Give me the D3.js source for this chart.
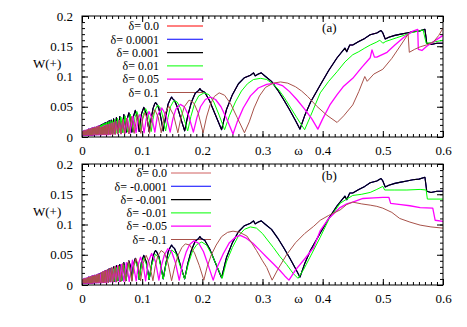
<!DOCTYPE html>
<html>
<head>
<meta charset="utf-8">
<script src="https://cdn.jsdelivr.net/npm/d3@7"></script>
<style>
  body { margin: 0; background: #fff; }
  svg text { font-family: "Liberation Serif", serif; fill: #000; }
</style>
</head>
<body>
<div id="chart"></div>
<script>
// tick labels
var xTicks = [0, 0.1, 0.2, 0.3, 0.4, 0.5, 0.6];
var xTickLabels = ["0", "0.1", "0.2", "0.3", "0.4", "0.5", "0.6"];
var yTicks = [0, 0.05, 0.1, 0.15, 0.2];
var yTickLabels = ["0", "0.05", "0.1", "0.15", "0.2"];

// legend entries
var topLabels = ["δ= 0.0", "δ= 0.0001", "δ= 0.001", "δ= 0.01", "δ= 0.05", "δ= 0.1"];
var botLabels = ["δ= 0.0", "δ= -0.0001", "δ= -0.001", "δ= -0.01", "δ= -0.05", "δ= -0.1"];
var topColors = ["#ff0000", "#0000ff", "#000000", "#00ff00", "#ff00ff", "#a8524a"];
var botColors = ["#d06060", "#0000ff", "#000000", "#00ff00", "#ff00ff", "#a8524a"];

// [omega, W(+)]
// low-omega band, where every curve oscillates too fast to separate
var dense = [[0,0.005],[0.001,0.009],[0.002,0.003],[0.003,0.010],[0.004,0.003],[0.005,0.011],[0.006,0.003],[0.007,0.011],[0.008,0.003],[0.009,0.012],[0.010,0.003],[0.011,0.013],[0.012,0.003],[0.013,0.013],[0.014,0.003],[0.015,0.014],[0.016,0.003],[0.017,0.015],[0.018,0.003],[0.019,0.015],[0.020,0.004],[0.021,0.016],[0.022,0.004],[0.023,0.016],[0.024,0.004],[0.025,0.017],[0.026,0.004],[0.027,0.018],[0.028,0.004],[0.029,0.018],[0.030,0.004]];

// delta = 0 (and +-0.0001, +-0.001, which lie on top of it)
var w0 = [[0.0303,0.019],[0.0310,0.004],[0.0318,0.020],[0.0326,0.004],[0.0335,0.021],[0.0344,0.005],[0.0353,0.022],[0.0363,0.005],[0.0373,0.023],[0.0384,0.005],[0.0396,0.024],[0.0409,0.005],[0.0422,0.025],[0.0436,0.005],[0.0452,0.027],[0.0468,0.006],[0.0486,0.028],[0.0505,0.006],[0.0525,0.030],[0.0548,0.006],[0.0572,0.032],[0.0598,0.007],[0.0628,0.034],[0.0660,0.007],[0.0695,0.037],[0.0735,0.008],[0.0755,0.031],[0.0779,0.040],[0.0805,0.031],[0.0829,0.008],[0.0856,0.034],[0.0886,0.044],[0.0918,0.034],[0.0951,0.009],[0.0988,0.038],[0.1027,0.049],[0.1070,0.038],[0.1116,0.009],[0.1150,0.030],[0.1180,0.047],[0.1205,0.054],[0.1222,0.057],[0.1240,0.055],[0.1275,0.048],[0.1310,0.032],[0.1350,0.010],[0.1390,0.033],[0.1430,0.054],[0.1470,0.063],[0.1490,0.066],[0.1500,0.064],[0.1540,0.060],[0.1590,0.048],[0.1650,0.028],[0.1706,0.010],[0.1760,0.036],[0.1820,0.058],[0.1880,0.072],[0.1940,0.077],[0.1960,0.080],[0.1980,0.077],[0.2040,0.074],[0.2120,0.060],[0.2220,0.036],[0.2320,0.012],[0.2400,0.045],[0.2500,0.070],[0.2600,0.088],[0.2700,0.098],[0.2800,0.102],[0.2850,0.106],[0.2880,0.101],[0.2930,0.104],[0.2980,0.106],[0.3050,0.100],[0.3150,0.092],[0.3250,0.078],[0.3350,0.062],[0.3450,0.045],[0.3550,0.027],[0.3623,0.013],[0.3700,0.035],[0.3800,0.058],[0.3960,0.086],[0.4100,0.110],[0.4240,0.131],[0.4370,0.147],[0.4400,0.141],[0.4450,0.152],[0.4500,0.152],[0.4600,0.158],[0.4700,0.163],[0.4790,0.169],[0.4900,0.172],[0.4970,0.176],[0.5000,0.172],[0.5040,0.162],[0.5100,0.165],[0.5200,0.168],[0.5300,0.170],[0.5400,0.172],[0.5500,0.174],[0.5600,0.175],[0.5700,0.178],[0.5730,0.155],[0.5800,0.153],[0.5900,0.155],[0.6000,0.155]];

// top panel, delta = 0.01
var wTop001 = [[0.0302,0.004],[0.0310,0.019],[0.0318,0.004],[0.0327,0.020],[0.0336,0.004],[0.0345,0.021],[0.0354,0.005],[0.0364,0.022],[0.0374,0.005],[0.0384,0.023],[0.0396,0.005],[0.0408,0.024],[0.0421,0.005],[0.0435,0.025],[0.0449,0.005],[0.0466,0.026],[0.0482,0.006],[0.0501,0.027],[0.0520,0.006],[0.0541,0.029],[0.0564,0.006],[0.0589,0.031],[0.0616,0.007],[0.0647,0.033],[0.0680,0.007],[0.0716,0.035],[0.0757,0.008],[0.0802,0.038],[0.0854,0.008],[0.0880,0.032],[0.0913,0.042],[0.0945,0.032],[0.0980,0.009],[0.1015,0.036],[0.1058,0.047],[0.1105,0.036],[0.1150,0.009],[0.1180,0.029],[0.1210,0.044],[0.1259,0.053],[0.1310,0.047],[0.1350,0.030],[0.1390,0.010],[0.1430,0.032],[0.1470,0.050],[0.1525,0.060],[0.1580,0.058],[0.1640,0.047],[0.1700,0.029],[0.1757,0.010],[0.1810,0.034],[0.1870,0.055],[0.1940,0.068],[0.2030,0.073],[0.2110,0.070],[0.2190,0.058],[0.2280,0.036],[0.2370,0.012],[0.2450,0.035],[0.2550,0.058],[0.2650,0.076],[0.2750,0.088],[0.2850,0.095],[0.2970,0.097],[0.3070,0.095],[0.3170,0.088],[0.3270,0.078],[0.3370,0.064],[0.3470,0.048],[0.3570,0.032],[0.3700,0.012],[0.3800,0.035],[0.3960,0.073],[0.4100,0.092],[0.4240,0.108],[0.4370,0.124],[0.4500,0.136],[0.4600,0.141],[0.4700,0.147],[0.4790,0.152],[0.4900,0.157],[0.4950,0.160],[0.5000,0.155],[0.5050,0.158],[0.5230,0.164],[0.5350,0.168],[0.5450,0.172],[0.5550,0.174],[0.5670,0.177],[0.5720,0.155],[0.5800,0.156],[0.5900,0.158],[0.6000,0.160]];

// top panel, delta = 0.05
var wTop005 = [[0.0307,0.004],[0.0314,0.016],[0.0321,0.004],[0.0329,0.016],[0.0336,0.004],[0.0345,0.017],[0.0354,0.004],[0.0363,0.018],[0.0373,0.004],[0.0383,0.019],[0.0394,0.004],[0.0405,0.0195],[0.0417,0.004],[0.0430,0.020],[0.0444,0.004],[0.0458,0.021],[0.0473,0.004],[0.0490,0.023],[0.0508,0.005],[0.0527,0.024],[0.0548,0.005],[0.0570,0.0255],[0.0595,0.005],[0.0621,0.027],[0.0649,0.005],[0.0681,0.029],[0.0716,0.006],[0.0754,0.031],[0.0797,0.006],[0.0845,0.034],[0.0899,0.007],[0.0930,0.029],[0.0961,0.037],[0.0995,0.029],[0.1032,0.007],[0.1070,0.031],[0.1114,0.042],[0.1163,0.031],[0.1211,0.008],[0.1255,0.036],[0.1326,0.048],[0.1395,0.036],[0.1465,0.008],[0.1510,0.030],[0.1560,0.046],[0.1635,0.054],[0.1700,0.050],[0.1770,0.036],[0.1851,0.008],[0.1910,0.032],[0.1970,0.050],[0.2050,0.062],[0.2134,0.066],[0.2220,0.062],[0.2310,0.050],[0.2410,0.029],[0.2510,0.005],[0.2580,0.025],[0.2680,0.048],[0.2800,0.068],[0.2930,0.081],[0.3070,0.087],[0.3210,0.089],[0.3330,0.085],[0.3450,0.075],[0.3570,0.062],[0.3700,0.046],[0.3820,0.030],[0.3920,0.013],[0.4000,0.030],[0.4120,0.053],[0.4240,0.070],[0.4340,0.083],[0.4500,0.097],[0.4650,0.115],[0.4790,0.131],[0.4820,0.144],[0.4860,0.132],[0.4900,0.132],[0.5070,0.140],[0.5200,0.152],[0.5350,0.165],[0.5500,0.175],[0.5580,0.178],[0.5590,0.145],[0.5650,0.143],[0.5730,0.150],[0.5850,0.158],[0.6000,0.168]];

// top panel, delta = 0.1
var wTop010 = [[0.0307,0.004],[0.0314,0.016],[0.0320,0.004],[0.0327,0.016],[0.0334,0.004],[0.0341,0.017],[0.0349,0.004],[0.0358,0.017],[0.0366,0.004],[0.0375,0.018],[0.0385,0.004],[0.0395,0.019],[0.0406,0.004],[0.0417,0.020],[0.0428,0.004],[0.0440,0.021],[0.0453,0.004],[0.0467,0.022],[0.0483,0.004],[0.0498,0.023],[0.0514,0.004],[0.0533,0.025],[0.0552,0.004],[0.0573,0.026],[0.0596,0.005],[0.0620,0.028],[0.0647,0.005],[0.0675,0.029],[0.0706,0.005],[0.0741,0.031],[0.0779,0.005],[0.0820,0.034],[0.0867,0.006],[0.0919,0.037],[0.0978,0.006],[0.1010,0.030],[0.1045,0.040],[0.1083,0.030],[0.1122,0.006],[0.1160,0.032],[0.1212,0.045],[0.1265,0.033],[0.1317,0.007],[0.1370,0.037],[0.1442,0.051],[0.1520,0.037],[0.1593,0.007],[0.1640,0.030],[0.1700,0.050],[0.1780,0.061],[0.1860,0.056],[0.1930,0.040],[0.2013,0.007],[0.2070,0.033],[0.2130,0.053],[0.2200,0.067],[0.2280,0.073],[0.2370,0.069],[0.2470,0.055],[0.2580,0.032],[0.2700,0.007],[0.2780,0.025],[0.2860,0.048],[0.2950,0.068],[0.3050,0.082],[0.3180,0.089],[0.3300,0.091],[0.3420,0.089],[0.3550,0.083],[0.3650,0.076],[0.3750,0.067],[0.3900,0.051],[0.4070,0.036],[0.4240,0.024],[0.4350,0.035],[0.4500,0.053],[0.4600,0.075],[0.4700,0.100],[0.4740,0.092],[0.4850,0.104],[0.5000,0.112],[0.5150,0.130],[0.5300,0.152],[0.5420,0.170],[0.5440,0.140],[0.5530,0.145],[0.5620,0.149],[0.5720,0.152],[0.5840,0.157],[0.5930,0.168],[0.6000,0.180]];

// bottom panel, delta = -0.01
var wBotM001 = [[0.0303,0.018],[0.0310,0.004],[0.0318,0.019],[0.0326,0.004],[0.0335,0.019],[0.0344,0.005],[0.0353,0.020],[0.0363,0.005],[0.0373,0.021],[0.0384,0.005],[0.0396,0.022],[0.0409,0.005],[0.0422,0.023],[0.0436,0.005],[0.0452,0.024],[0.0468,0.006],[0.0486,0.025],[0.0505,0.006],[0.0525,0.027],[0.0548,0.006],[0.0572,0.029],[0.0598,0.007],[0.0628,0.031],[0.0660,0.007],[0.0695,0.033],[0.0735,0.008],[0.0779,0.036],[0.0829,0.008],[0.0856,0.030],[0.0886,0.040],[0.0918,0.030],[0.0951,0.009],[0.0988,0.034],[0.1027,0.045],[0.1070,0.034],[0.1116,0.009],[0.1160,0.034],[0.1222,0.051],[0.1280,0.044],[0.1350,0.010],[0.1400,0.036],[0.1490,0.058],[0.1560,0.052],[0.1630,0.032],[0.1706,0.010],[0.1770,0.036],[0.1840,0.057],[0.1910,0.067],[0.1990,0.071],[0.2070,0.066],[0.2150,0.052],[0.2240,0.032],[0.2330,0.011],[0.2400,0.038],[0.2500,0.062],[0.2600,0.081],[0.2700,0.092],[0.2800,0.096],[0.2900,0.094],[0.3000,0.085],[0.3070,0.076],[0.3180,0.062],[0.3290,0.047],[0.3400,0.034],[0.3510,0.019],[0.3590,0.011],[0.3680,0.025],[0.3800,0.048],[0.3960,0.079],[0.4100,0.108],[0.4290,0.135],[0.4400,0.142],[0.4500,0.148],[0.4650,0.150],[0.4790,0.153],[0.4900,0.158],[0.5000,0.163],[0.5030,0.157],[0.5200,0.157],[0.5400,0.157],[0.5620,0.158],[0.5720,0.157],[0.5740,0.142],[0.5900,0.142],[0.6000,0.142]];

// bottom panel, delta = -0.05
var wBotM005 = [[0.0309,0.004],[0.0317,0.020],[0.0326,0.004],[0.0334,0.021],[0.0344,0.004],[0.0353,0.022],[0.0364,0.004],[0.0375,0.023],[0.0387,0.004],[0.0400,0.024],[0.0413,0.004],[0.0428,0.025],[0.0443,0.005],[0.0460,0.026],[0.0478,0.005],[0.0497,0.028],[0.0519,0.005],[0.0542,0.030],[0.0566,0.005],[0.0595,0.032],[0.0625,0.006],[0.0658,0.034],[0.0696,0.006],[0.0738,0.037],[0.0785,0.006],[0.0839,0.041],[0.0901,0.007],[0.0935,0.034],[0.0973,0.046],[0.1015,0.034],[0.1057,0.007],[0.1100,0.038],[0.1157,0.052],[0.1220,0.039],[0.1278,0.008],[0.1320,0.032],[0.1370,0.050],[0.1427,0.060],[0.1490,0.055],[0.1550,0.038],[0.1616,0.008],[0.1670,0.034],[0.1730,0.054],[0.1790,0.067],[0.1863,0.073],[0.1940,0.069],[0.2020,0.055],[0.2100,0.032],[0.2180,0.008],[0.2250,0.030],[0.2350,0.052],[0.2450,0.070],[0.2550,0.079],[0.2630,0.082],[0.2720,0.078],[0.2840,0.069],[0.2950,0.058],[0.3070,0.046],[0.3180,0.035],[0.3290,0.024],[0.3370,0.015],[0.3440,0.008],[0.3550,0.025],[0.3700,0.043],[0.3850,0.062],[0.3960,0.090],[0.4100,0.110],[0.4290,0.128],[0.4400,0.134],[0.4500,0.137],[0.4670,0.143],[0.4850,0.144],[0.5000,0.145],[0.5100,0.145],[0.5130,0.135],[0.5300,0.133],[0.5450,0.131],[0.5620,0.128],[0.5830,0.127],[0.5870,0.107],[0.6000,0.105]];

// bottom panel, delta = -0.1
var wBotM010 = [[0.0317,0.004],[0.0326,0.021],[0.0335,0.004],[0.0346,0.022],[0.0357,0.004],[0.0368,0.023],[0.0381,0.004],[0.0394,0.024],[0.0409,0.004],[0.0424,0.026],[0.0441,0.004],[0.0458,0.027],[0.0478,0.005],[0.0499,0.029],[0.0522,0.005],[0.0548,0.031],[0.0576,0.005],[0.0607,0.033],[0.0642,0.005],[0.0680,0.036],[0.0724,0.006],[0.0774,0.040],[0.0830,0.006],[0.0862,0.032],[0.0897,0.044],[0.0935,0.032],[0.0974,0.007],[0.1015,0.036],[0.1067,0.049],[0.1120,0.036],[0.1179,0.007],[0.1215,0.030],[0.1260,0.048],[0.1316,0.057],[0.1370,0.053],[0.1430,0.036],[0.1489,0.007],[0.1540,0.030],[0.1600,0.050],[0.1660,0.062],[0.1717,0.068],[0.1790,0.066],[0.1870,0.053],[0.1950,0.032],[0.2025,0.008],[0.2080,0.030],[0.2150,0.050],[0.2230,0.066],[0.2320,0.080],[0.2420,0.087],[0.2510,0.089],[0.2620,0.087],[0.2740,0.081],[0.2830,0.068],[0.2900,0.057],[0.3000,0.040],[0.3070,0.029],[0.3160,0.008],[0.3250,0.025],[0.3400,0.050],[0.3550,0.070],[0.3700,0.085],[0.3850,0.097],[0.3960,0.107],[0.4100,0.115],[0.4290,0.124],[0.4400,0.133],[0.4500,0.137],[0.4650,0.134],[0.4790,0.132],[0.4900,0.130],[0.5000,0.127],[0.5150,0.120],[0.5280,0.110],[0.5450,0.104],[0.5620,0.099],[0.5800,0.096],[0.6000,0.094]];

var topSeries = [w0, w0, w0, wTop001, wTop005, wTop010];
var botSeries = [w0, w0, w0, wBotM001, wBotM005, wBotM010];
var widths = [1, 1.1, 1.1, 1, 1.3, 1];
var FONT = "Liberation Serif, serif";

var svg = d3.select("#chart").append("svg")
    .attr("width", 467)
    .attr("height", 327)
    .attr("font-family", FONT)
    .attr("font-size", 13);

// tick marks only (no labels)
function ticksOnly(g, axis) {
  g.call(axis);
  g.selectAll("text").remove();
  return g;
}

function drawPanel(box, series, labels, colors, tag, key, id) {
  var x = d3.scaleLinear().domain([0, 0.6]).range([box.left, box.right]);
  var y = d3.scaleLinear().domain([0, 0.2]).range([box.bottom, box.top]);
  var g = svg.append("g");

  g.append("clipPath").attr("id", "clip" + id)
    .append("rect")
      .attr("x", box.left).attr("y", box.top)
      .attr("width", box.right - box.left).attr("height", box.bottom - box.top);

  // minor ticks on all four sides
  var xMinor = d3.range(0, 0.6001, 0.01), yMinor = d3.range(0, 0.2001, 0.01);
  ticksOnly(g.append("g").attr("transform", "translate(0," + box.bottom + ")"),
    d3.axisBottom(x).tickValues(xMinor).tickSize(-3));
  ticksOnly(g.append("g").attr("transform", "translate(0," + box.top + ")"),
    d3.axisTop(x).tickValues(xMinor).tickSize(-3));
  ticksOnly(g.append("g").attr("transform", "translate(" + box.left + ",0)"),
    d3.axisLeft(y).tickValues(yMinor).tickSize(-3));
  ticksOnly(g.append("g").attr("transform", "translate(" + box.right + ",0)"),
    d3.axisRight(y).tickValues(yMinor).tickSize(-3));

  // major ticks, mirrored
  ticksOnly(g.append("g").attr("transform", "translate(0," + box.top + ")"),
    d3.axisTop(x).tickValues(xTicks).tickSize(-6));
  ticksOnly(g.append("g").attr("transform", "translate(" + box.right + ",0)"),
    d3.axisRight(y).tickValues(yTicks).tickSize(-6));

  // labelled axes
  g.append("g").attr("transform", "translate(0," + box.bottom + ")")
    .call(d3.axisBottom(x).tickValues(xTicks).tickSizeInner(-6).tickSizeOuter(0).tickPadding(9)
      .tickFormat(function(d, i) { return xTickLabels[i]; }));
  g.append("g").attr("transform", "translate(" + box.left + ",0)")
    .call(d3.axisLeft(y).tickValues(yTicks).tickSizeInner(-6).tickSizeOuter(0).tickPadding(9)
      .tickFormat(function(d, i) { return yTickLabels[i]; }));

  // d3 axes set a sans-serif font on their groups; drop it
  g.selectAll("g").attr("font-family", null).attr("font-size", null);
  g.selectAll(".domain").remove();
  g.selectAll(".tick line").attr("stroke", "#000").attr("stroke-width", 1);
  g.selectAll(".tick text").attr("font-family", FONT).attr("font-size", 13).attr("fill", "#000");

  // key
  labels.forEach(function(lab, i) {
    var ry = key.y0 + i * key.step;
    g.append("text").attr("x", key.textX).attr("y", ry + 4.2)
      .attr("text-anchor", "end").attr("font-family", FONT).attr("font-size", 12).text(lab);
    g.append("line")
      .attr("x1", key.x1).attr("x2", key.x2).attr("y1", ry).attr("y2", ry)
      .attr("stroke", colors[i]).attr("stroke-width", widths[i]);
  });

  var line = d3.line()
    .x(function(d) { return x(d[0]); })
    .y(function(d) { return y(d[1]); });

  g.append("g").attr("clip-path", "url(#clip" + id + ")")
    .selectAll("path")
    .data(series)
    .enter().append("path")
      .attr("fill", "none")
      .attr("stroke", function(d, i) { return colors[i]; })
      .attr("stroke-width", function(d, i) { return widths[i]; })
      .attr("stroke-linejoin", "round")
      .attr("d", function(d) { return line(dense.concat(d)); });

  // frame
  g.append("rect")
    .attr("x", box.left).attr("y", box.top)
    .attr("width", box.right - box.left).attr("height", box.bottom - box.top)
    .attr("fill", "none").attr("stroke", "#000").attr("stroke-width", 1);

  g.append("text").attr("x", 33).attr("y", (box.top + box.bottom) / 2 - 9)
    .attr("font-family", FONT).attr("font-size", 13).text("W(+)");
  g.append("text").attr("x", x(0.36)).attr("y", box.bottom + 18)
    .attr("text-anchor", "middle").attr("font-family", FONT).attr("font-size", 13).text("ω");
  g.append("text").attr("x", x(0.411)).attr("y", box.top + 15.5)
    .attr("text-anchor", "middle").attr("font-family", FONT).attr("font-size", 13).text(tag);
}

drawPanel({left: 82, right: 443, top: 16, bottom: 137}, topSeries, topLabels, topColors, "(a)",
  {y0: 26, step: 13.3, textX: 159, x1: 167, x2: 203}, "a");
drawPanel({left: 82, right: 443, top: 164, bottom: 285}, botSeries, botLabels, botColors, "(b)",
  {y0: 173, step: 13.3, textX: 167, x1: 171, x2: 211}, "b");
</script>
</body>
</html>
